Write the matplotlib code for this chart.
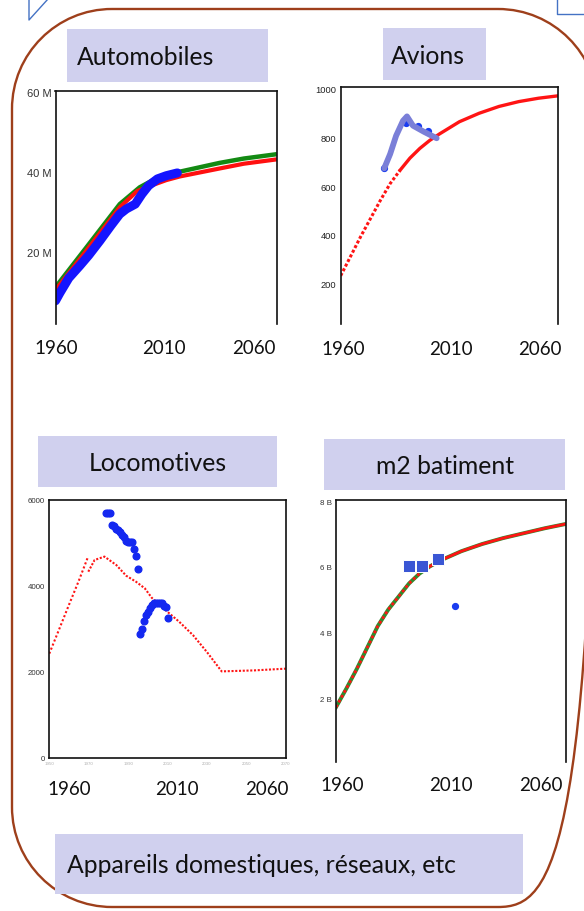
#!/usr/bin/env python3
"""Slide panel: stock curves for cars, planes, locomotives and floor area."""

import matplotlib
matplotlib.use("Agg")
import matplotlib.pyplot as plt
from matplotlib.patches import PathPatch, Rectangle
from matplotlib.path import Path

# --- Automobiles (millions) ---
auto_obs_years = [1960, 1962, 1966, 1971, 1975, 1980, 1985, 1989, 1992, 1996, 1999, 2002, 2006, 2010, 2015]
auto_obs = [7.8, 9.8, 13.5, 16.6, 19.2, 22.8, 26.6, 29.5, 30.8, 32.0, 34.5, 36.6, 38.3, 39.1, 39.8]
auto_red_years = [1960, 1974, 1989, 1997, 2005, 2010, 2016, 2034, 2045, 2060]
auto_red = [10.5, 20.4, 31.2, 35.3, 37.0, 38.0, 38.9, 40.9, 42.1, 43.2]
auto_green_years = [1960, 1974, 1989, 1998, 2005, 2010, 2016, 2034, 2045, 2060]
auto_green = [11.2, 21.2, 32.0, 36.2, 38.3, 39.3, 40.1, 42.3, 43.4, 44.5]
auto_ticks = [20, 40, 60]
auto_ticklabels = ["20 M", "40 M", "60 M"]

# --- Avions ---
av_years = [1960, 1965, 1970, 1975, 1980, 1985, 1990, 1995, 2000, 2005, 2010, 2020, 2030, 2040, 2050, 2060, 2070]
av_model = [230, 310, 390, 465, 540, 610, 665, 715, 755, 788, 815, 865, 900, 928, 948, 962, 972]
av_smooth_years = [1982, 1985, 1988, 1991.5, 1993.5, 1996.5, 2002, 2008.5]
av_smooth = [673, 732, 807, 869, 887, 849, 824, 797]
av_obs_years = [1982, 1993, 1999, 2004]
av_obs = [673, 860, 846, 828]
av_ticks = [200, 400, 600, 800, 1000]

# --- Locomotives ---
loco_early_years = [1950, 1955, 1960, 1965, 1969.5]
loco_early = [2424, 2990, 3560, 4120, 4655]
loco_model_years = [1969.8, 1973, 1978, 1984, 1989, 1994, 1998.5, 2002, 2008, 2016, 2023, 2030, 2037.5, 2054, 2070]
loco_model = [4328, 4600, 4678, 4483, 4235, 4095, 3940, 3722, 3473, 3162, 2851, 2462, 2012, 2035, 2075]
loco_obs_years = list(range(1979, 2011))
loco_obs = [5688, 5688, 5688, 5420, 5380, 5320, 5290, 5250, 5180, 5140, 5030, 5020, 5020, 5020, 4850, 4690, 4400,
            2870, 3000, 3180, 3320, 3400, 3480, 3550, 3600, 3610, 3610, 3610, 3600, 3540, 3500, 3250]
loco_ticks = [0, 2000, 4000, 6000]
loco_xticks = [1950, 1970, 1990, 2010, 2030, 2050, 2070]

# --- m2 batiment (billions) ---
m2_years = [1960, 1965, 1970, 1975, 1980, 1985, 1990, 1995, 2000, 2005, 2010, 2020, 2030, 2040, 2050, 2060, 2070]
m2_model = [1.73, 2.3, 2.9, 3.55, 4.2, 4.7, 5.1, 5.5, 5.8, 6.02, 6.2, 6.48, 6.7, 6.88, 7.03, 7.18, 7.31]
m2_sq_years = [1995, 2001, 2009]
m2_sq = [6.04, 6.04, 6.24]
m2_dot_years = [2017]
m2_dot = [4.8]
m2_ticks = [2, 4, 6, 8]
m2_ticklabels = ["2 B", "4 B", "6 B", "8 B"]

year_labels = ["1960", "2010", "2060"]

W, H = 584, 912
BROWN = "#9e3f1b"
LAVENDER = "#d0d0ee"
OUTLINE = "#4472c4"
LABEL_FONT = "Lato"
TICK_FONT = "Liberation Sans"


def rounded_frame(x0, y0, x1, y1, r):
    k = 0.5523 * r
    verts = [
        (x0 + r, y0), (x1 - r, y0),
        (x1 - r + k, y0), (x1, y0 + r - k), (x1, y0 + r),
        (x1, y1 - r),
        (x1, y1 - r + k), (x1 - r + k, y1), (x1 - r, y1),
        (x0 + r, y1),
        (x0 + r - k, y1), (x0, y1 - r + k), (x0, y1 - r),
        (x0, y0 + r),
        (x0, y0 + r - k), (x0 + r - k, y0), (x0 + r, y0),
    ]
    codes = [Path.MOVETO, Path.LINETO,
             Path.CURVE4, Path.CURVE4, Path.CURVE4,
             Path.LINETO,
             Path.CURVE4, Path.CURVE4, Path.CURVE4,
             Path.LINETO,
             Path.CURVE4, Path.CURVE4, Path.CURVE4,
             Path.LINETO,
             Path.CURVE4, Path.CURVE4, Path.CURVE4]
    return Path(verts, codes)


fig = plt.figure(figsize=(W / 100, H / 100), dpi=100)

# background layer in pixel coordinates
bg = fig.add_axes([0, 0, 1, 1])
bg.set_xlim(0, W)
bg.set_ylim(H, 0)
bg.axis("off")

bg.add_patch(PathPatch(rounded_frame(12, 10, 598, 908, 100), fc="none", ec=BROWN, lw=1.7))
bg.plot([29, 29, 48], [0, 21, 0], color=OUTLINE, lw=1)
bg.plot([557, 557, 584], [0, 14.5, 14.5], color=OUTLINE, lw=1)


def label_box(x0, y0, x1, y1, text, tx=None, size=17.8):
    bg.add_patch(Rectangle((x0, y0), x1 - x0, y1 - y0, fc=LAVENDER, ec="none"))
    if tx is None:
        bg.text((x0 + x1) / 2, (y0 + y1) / 2 + 1, text, ha="center", va="center",
                fontsize=size, family=LABEL_FONT, color="#111111")
    else:
        bg.text(tx, (y0 + y1) / 2 + 1, text, ha="left", va="center",
                fontsize=size, family=LABEL_FONT, color="#111111")


label_box(67, 30, 268, 83, "Automobiles", tx=77)
label_box(383, 29, 486, 81, "Avions", tx=391)
label_box(38, 437, 277, 488, "Locomotives")
label_box(324, 440, 565, 491, "m2 batiment")
label_box(55, 835, 523, 895, "Appareils domestiques, réseaux, etc", tx=67)


def year_row(xs, y):
    for x, lab in zip(xs, year_labels):
        bg.text(x, y, lab, ha="center", va="center", fontsize=13.5, family=LABEL_FONT, color="#111111")


year_row([56, 164, 254], 349)
year_row([343.5, 451, 540], 350)
year_row([69, 176.5, 266.5], 790)
year_row([342.5, 451, 541], 786)


def panel(left, top, right, bottom):
    ax = fig.add_axes([left / W, 1 - bottom / H, (right - left) / W, (bottom - top) / H])
    for sp in ax.spines.values():
        sp.set_linewidth(1.2)
        sp.set_color("#111111")
    ax.tick_params(length=0, pad=3)
    return ax


# Automobiles
ax = panel(55.5, 92, 277, 325)
ax.plot(auto_green_years, auto_green, color="#138a13", lw=3.2, solid_capstyle="butt")
ax.plot(auto_red_years, auto_red, color="#ff1010", lw=3.0, solid_capstyle="butt")
ax.plot(auto_obs_years, auto_obs, color="#1414ff", lw=6.5, solid_capstyle="round", solid_joinstyle="round")
ax.set_xlim(1960, 2060)
ax.set_ylim(2, 60.3)
ax.set_xticks([])
ax.set_yticks(auto_ticks)
ax.set_yticklabels(auto_ticklabels, fontsize=8, family=TICK_FONT, color="#333333")
ax.spines["bottom"].set_visible(False)

# Avions
ax = panel(340.7, 88.3, 558.3, 325)
early = [i for i, y in enumerate(av_years) if y <= 1990]
late = [i for i, y in enumerate(av_years) if y >= 1990]
ax.plot([av_years[i] for i in early], [av_model[i] for i in early], color="#ff1414", lw=2.2,
        linestyle=(0, (1, 0.7)))
ax.plot([av_years[i] for i in late], [av_model[i] for i in late], color="#ff1414", lw=2.4)
ax.plot(av_obs_years, av_obs, "o", color="#1a3cf0", ms=4.2, ls="none")
ax.plot(av_smooth_years, av_smooth, color="#7a7fd8", lw=4.2, solid_capstyle="round", solid_joinstyle="round")
ax.set_xlim(1960, 2070)
ax.set_ylim(31, 1007)
ax.set_xticks([])
ax.set_yticks(av_ticks)
ax.set_yticklabels([str(v) for v in av_ticks], fontsize=6.7, family=TICK_FONT, color="#222222")
ax.spines["bottom"].set_visible(False)

# Locomotives
ax = panel(49.3, 500.7, 285.7, 759)
ax.plot(loco_early_years, loco_early, color="#ff1414", lw=1.5, linestyle=(0, (1, 1.1)))
ax.plot(loco_model_years, loco_model, color="#ff1414", lw=1.5, linestyle=(0, (1, 0.8)))
ax.plot(loco_obs_years, loco_obs, "o", color="#1428f0", ms=4.8, ls="none")
ax.set_xlim(1950, 2070)
ax.set_ylim(0, 6000)
ax.set_xticks(loco_xticks)
ax.set_xticklabels([str(v) for v in loco_xticks], fontsize=3.2, family=TICK_FONT, color="#b0b0b0")
ax.set_yticks(loco_ticks)
ax.set_yticklabels([str(v) for v in loco_ticks], fontsize=5.7, family=TICK_FONT, color="#333333")
ax.tick_params(axis="x", pad=2)

# m2 batiment
ax = panel(336, 500.7, 565.7, 763)
early = [i for i, y in enumerate(m2_years) if y <= 2005]
late = [i for i, y in enumerate(m2_years) if y >= 2005]
ax.plot(m2_years, m2_model, color="#2e8b2e", lw=2.8)
ax.plot([m2_years[i] for i in early], [m2_model[i] for i in early], color="#ff1414", lw=2.0,
        linestyle=(0, (1, 1)))
ax.plot([m2_years[i] for i in late], [m2_model[i] for i in late], color="#ff1414", lw=2.0)
ax.plot(m2_sq_years, m2_sq, "s", color="#3a56d4", ms=8.4, mec="white", mew=0.7, ls="none")
ax.plot(m2_dot_years, m2_dot, "o", color="#1a3cf0", ms=4.2, ls="none")
ax.set_xlim(1960, 2070)
ax.set_ylim(0.06, 8.05)
ax.set_xticks([])
ax.set_yticks(m2_ticks)
ax.set_yticklabels(m2_ticklabels, fontsize=5.7, family=TICK_FONT, color="#333333")
ax.spines["bottom"].set_visible(False)

fig.savefig("out.png", dpi=100)
plt.close(fig)
